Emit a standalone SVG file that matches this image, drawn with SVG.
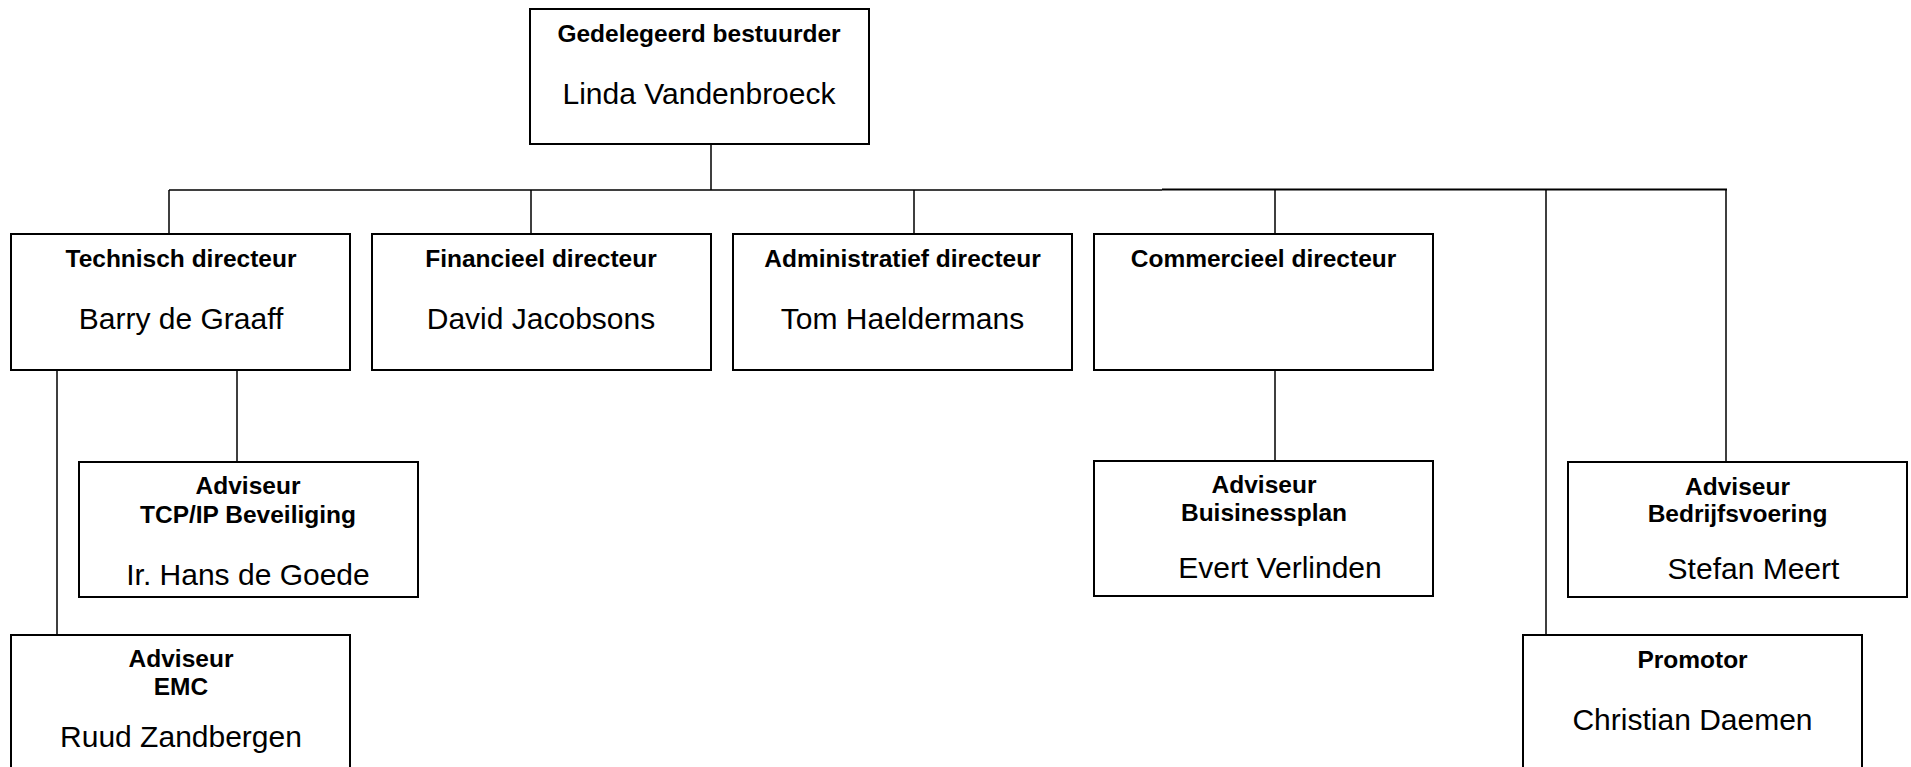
<svg xmlns="http://www.w3.org/2000/svg" width="1911" height="767" viewBox="0 0 1911 767">
<style>
.box{fill:#fff;stroke:#000;stroke-width:2}
.t{font-family:"Liberation Sans",Arial,sans-serif;font-weight:bold;font-size:24.5px;text-anchor:middle;fill:#000}
.n{font-family:"Liberation Sans",Arial,sans-serif;font-size:30px;text-anchor:middle;fill:#000}
.c{fill:none;stroke:#000;stroke-width:1.5}
</style>
<rect width="1911" height="767" fill="#fff"/>
<g id="connectors">
<path class="c" d="M711 144V190M169 190H1162M169 190V234M531 190V234M914 190V234M1275 190V234M1546 190V635M1726 190V462M1275 370V461M57 370V635M237 370V462"/>
<path d="M1162 189.5H1727" fill="none" stroke="#000" stroke-width="2"/>
</g>
<g id="gedelegeerd">
<rect class="box" x="530" y="9" width="339" height="135"/>
<text class="t" x="699" y="42">Gedelegeerd bestuurder</text>
<text class="n" x="699" y="104">Linda Vandenbroeck</text>
</g>
<g id="technisch">
<rect class="box" x="11" y="234" width="339" height="136"/>
<text class="t" x="181" y="267">Technisch directeur</text>
<text class="n" x="181" y="329">Barry de Graaff</text>
</g>
<g id="financieel">
<rect class="box" x="372" y="234" width="339" height="136"/>
<text class="t" x="541" y="267">Financieel directeur</text>
<text class="n" x="541" y="329">David Jacobsons</text>
</g>
<g id="administratief">
<rect class="box" x="733" y="234" width="339" height="136"/>
<text class="t" x="902.5" y="267">Administratief directeur</text>
<text class="n" x="902.5" y="329">Tom Haeldermans</text>
</g>
<g id="commercieel">
<rect class="box" x="1094" y="234" width="339" height="136"/>
<text class="t" x="1263.5" y="267">Commercieel directeur</text>
</g>
<g id="tcpip">
<rect class="box" x="79" y="462" width="339" height="135"/>
<text class="t" x="248" y="494">Adviseur</text>
<text class="t" x="248" y="523">TCP/IP Beveiliging</text>
<text class="n" x="248" y="585">Ir. Hans de Goede</text>
</g>
<g id="emc">
<rect class="box" x="11" y="635" width="339" height="140"/>
<text class="t" x="181" y="667">Adviseur</text>
<text class="t" x="181" y="695">EMC</text>
<text class="n" x="181" y="747">Ruud Zandbergen</text>
</g>
<g id="buisinessplan">
<rect class="box" x="1094" y="461" width="339" height="135"/>
<text class="t" x="1264" y="493">Adviseur</text>
<text class="t" x="1264" y="521">Buisinessplan</text>
<text class="n" x="1280" y="578">Evert Verlinden</text>
</g>
<g id="bedrijfsvoering">
<rect class="box" x="1568" y="462" width="339" height="135"/>
<text class="t" x="1737.5" y="495">Adviseur</text>
<text class="t" x="1737.5" y="522">Bedrijfsvoering</text>
<text class="n" x="1753.5" y="579">Stefan Meert</text>
</g>
<g id="promotor">
<rect class="box" x="1523" y="635" width="339" height="140"/>
<text class="t" x="1692.5" y="668">Promotor</text>
<text class="n" x="1692.5" y="730">Christian Daemen</text>
</g>
</svg>
